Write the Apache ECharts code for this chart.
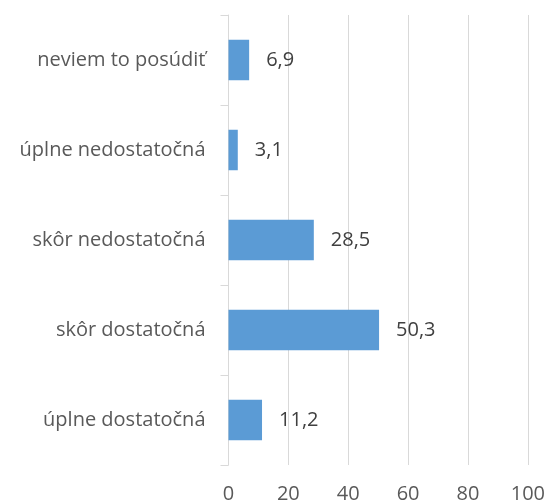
<!DOCTYPE html>
<html>
<head>
<meta charset="utf-8">
<script src="https://cdn.jsdelivr.net/npm/echarts@6/dist/echarts.min.js"></script>
<style>
html,body{margin:0;padding:0;background:#fff;}
#c{width:548px;height:504px;}
</style>
</head>
<body>
<div id="c"></div>
<script>
const categories = ["neviem to posúdiť", "úplne nedostatočná", "skôr nedostatočná", "skôr dostatočná", "úplne dostatočná"];
const values = [6.9, 3.1, 28.5, 50.3, 11.2];
const xTicks = [0, 20, 40, 60, 80, 100];

const fontFam = "'Open Sans', 'Liberation Sans', sans-serif";
const chart = echarts.init(document.getElementById('c'), null, {renderer: 'canvas'});
chart.setOption({
  animation: false,
  backgroundColor: '#ffffff',
  grid: {left: 228.5, right: 20, top: 15, bottom: 38, containLabel: false},
  xAxis: {
    type: 'value',
    min: xTicks[0],
    max: xTicks[xTicks.length - 1],
    interval: 20,
    axisLine: {show: false},
    axisTick: {show: false},
    splitLine: {show: true, lineStyle: {color: '#d9d9d9', width: 1}},
    axisLabel: {color: '#595959', fontSize: 20, fontFamily: fontFam, margin: 19}
  },
  yAxis: {
    type: 'category',
    data: categories,
    inverse: true,
    axisLine: {show: true, lineStyle: {color: '#d9d9d9', width: 1}},
    axisTick: {show: true, length: 8, lineStyle: {color: '#d9d9d9'}},
    axisLabel: {color: '#595959', fontSize: 20, fontFamily: fontFam, margin: 23}
  },
  series: [{
    type: 'bar',
    data: values,
    barCategoryGap: '55%',
    itemStyle: {color: '#5b9bd5'},
    label: {
      show: true,
      position: 'right',
      distance: 17,
      color: '#404040',
      fontSize: 20,
      fontFamily: fontFam,
      formatter: p => String(p.value).replace('.', ',')
    }
  }]
});
</script>
</body>
</html>
